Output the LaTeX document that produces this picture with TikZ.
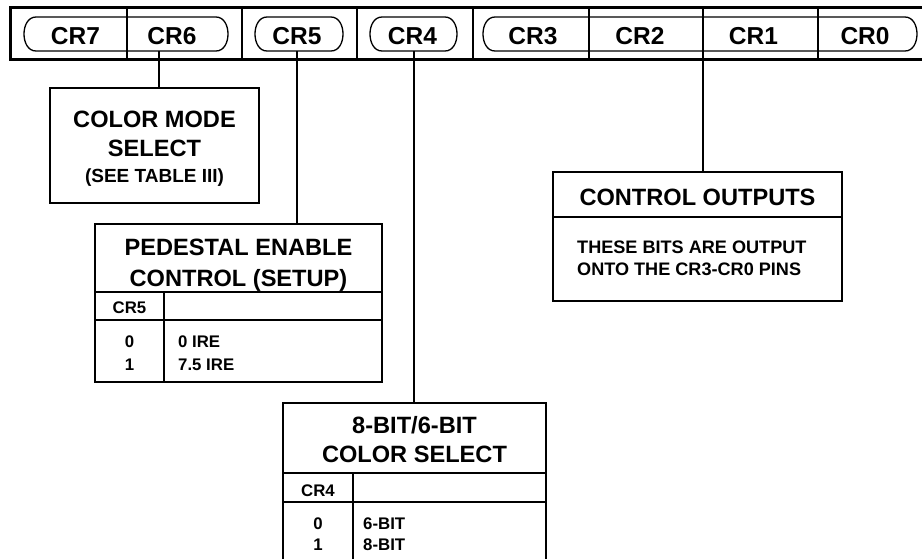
\documentclass[tikz,border=0pt]{standalone}
\usepackage{fontspec}
\setmainfont{Liberation Sans}
\newcommand\pillpath[2]{\draw[pillline] (#1+12,17) -- (#2-12,17) .. controls (#2+4,17) and (#2+4,51) .. (#2-12,51) -- (#1+12,51) .. controls (#1-4,51) and (#1-4,17) .. (#1+12,17) -- cycle;}
\begin{document}
\begin{tikzpicture}[x=1pt,y=-1pt,
  lbl/.style={font=\fontsize{24.5}{28}\selectfont\bfseries, inner sep=0pt, anchor=base},
  title/.style={font=\fontsize{23.6}{27}\selectfont\bfseries, inner sep=0pt, anchor=base},
  sub/.style={font=\fontsize{19}{22}\selectfont\bfseries, inner sep=0pt, anchor=base},
  cell/.style={font=\fontsize{16.8}{19}\selectfont\bfseries, inner sep=0pt, anchor=base},
  body/.style={font=\fontsize{16.8}{19}\selectfont\bfseries, inner sep=0pt, anchor=base west},
  note/.style={font=\fontsize{18.1}{21}\selectfont\bfseries, inner sep=0pt, anchor=base west},
  box/.style={draw, line width=2.2pt, inner sep=0pt, outer sep=0pt, anchor=north west},
  rule/.style={line width=1.6pt},
  pillline/.style={line width=1.3pt},
  conn/.style={line width=1.5pt},
]
\useasboundingbox (0,0) rectangle (922,558);
\clip (0,0) rectangle (922,558);
% register bar
\draw[line width=3pt] (935,7) -- (10,7) -- (10,59) -- (935,59);
\foreach \x in {127,242,357,473,589,703,818} \draw[line width=2pt] (\x,7) -- (\x,59);
\pillpath{24}{228}
\pillpath{255}{343}
\pillpath{370}{457}
\pillpath{483}{917}
\node[lbl] (cr7) at (75.5,44.5) {CR7};
\node[lbl] (cr6) at (172,44.5) {CR6};
\node[lbl] (cr5) at (297,44.5) {CR5};
\node[lbl] (cr4) at (412.5,44.5) {CR4};
\node[lbl] (cr3) at (533,44.5) {CR3};
\node[lbl] (cr2) at (640,44.5) {CR2};
\node[lbl] (cr1) at (753.5,44.5) {CR1};
\node[lbl] (cr0) at (865,44.5) {CR0};
% boxes
\node[box, minimum width=209, minimum height=115] (colorbox) at (50,88) {};
\node[box, minimum width=287, minimum height=158] (pedbox) at (95,224) {};
\node[box, minimum width=263, minimum height=175] (bitbox) at (283,403) {};
\node[box, minimum width=289, minimum height=129] (ctrlbox) at (553,172) {};
% table rules
\draw[rule] (95,292) -- (382,292);
\draw[rule] (95,320) -- (382,320);
\draw[rule] (164,292) -- (164,382);
\draw[rule] (283,473) -- (546,473);
\draw[rule] (283,502) -- (546,502);
\draw[rule] (353,473) -- (353,578);
\draw[rule] (553,217) -- (842,217);
% connectors
\coordinate (p6) at (159,51);
\coordinate (p5) at (297,51);
\coordinate (p4) at (414,51);
\coordinate (p21) at (703,59);
\draw[conn] (p6) -- (p6 |- colorbox.north);
\draw[conn] (p5) -- (p5 |- pedbox.north);
\draw[conn] (p4) -- (p4 |- bitbox.north);
\draw[conn] (p21) -- (p21 |- ctrlbox.north);
% texts
\node[title] (cm1) at (154.5,127) {COLOR MODE};
\node[title] (cm2) at (154.5,156) {SELECT};
\node[sub] (cm3) at (154.5,182) {(SEE TABLE III)};
\node[title] (pe1) at (238.5,255) {PEDESTAL ENABLE};
\node[title] (pe2) at (238.5,286) {CONTROL (SETUP)};
\node[cell] (pe3) at (129.5,313) {CR5};
\node[cell] (pe4) at (129.5,347) {0};
\node[cell] (pe5) at (129.5,370) {1};
\node[body] (pe6) at (178,347) {0 IRE};
\node[body] (pe7) at (178,370) {7.5 IRE};
\node[title] (bs1) at (414.5,433) {8-BIT/6-BIT};
\node[title] (bs2) at (414.5,462) {COLOR SELECT};
\node[cell] (bs3) at (318,496) {CR4};
\node[cell] (bs4) at (318,529) {0};
\node[cell] (bs5) at (318,550) {1};
\node[body] (bs6) at (363,529) {6-BIT};
\node[body] (bs7) at (363,550) {8-BIT};
\node[title] (co1) at (697.5,205) {CONTROL OUTPUTS};
\node[note] (co2) at (577,253) {THESE BITS ARE OUTPUT};
\node[note] (co3) at (577,275) {ONTO THE CR3-CR0 PINS};
\end{tikzpicture}
\end{document}
